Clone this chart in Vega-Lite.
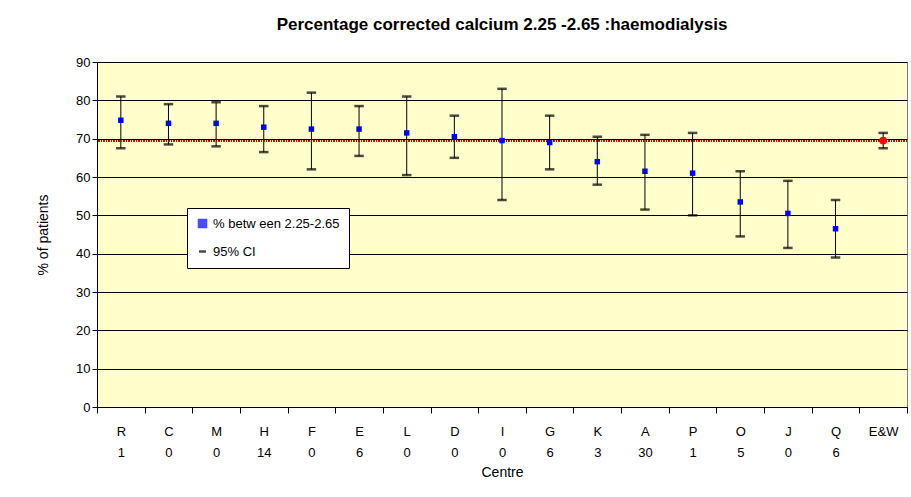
{
  "$schema": "https://vega.github.io/schema/vega-lite/v6.json",
  "width": 810,
  "height": 345,
  "padding": {"left": 36, "top": 16, "right": 3, "bottom": 5},
  "title": {"text": "Percentage corrected calcium 2.25 -2.65 :haemodialysis", "font": "Liberation Sans", "fontSize": 17, "fontWeight": "bold", "color": "black", "offset": 22},
  "data": {"values": [
    {"lab": "R|1", "v": 74.8, "lo": 67.5, "hi": 81},
    {"lab": "C|0", "v": 74, "lo": 68.5, "hi": 79},
    {"lab": "M|0", "v": 74, "lo": 68, "hi": 79.5},
    {"lab": "H|14", "v": 73, "lo": 66.5, "hi": 78.5},
    {"lab": "F|0", "v": 72.5, "lo": 62, "hi": 82},
    {"lab": "E|6", "v": 72.5, "lo": 65.5, "hi": 78.5},
    {"lab": "L|0", "v": 71.5, "lo": 60.5, "hi": 81},
    {"lab": "D|0", "v": 70.5, "lo": 65, "hi": 76},
    {"lab": "I|0", "v": 69.5, "lo": 54, "hi": 83},
    {"lab": "G|6", "v": 69, "lo": 62, "hi": 76},
    {"lab": "K|3", "v": 64, "lo": 58, "hi": 70.5},
    {"lab": "A|30", "v": 61.5, "lo": 51.5, "hi": 71},
    {"lab": "P|1", "v": 61, "lo": 50, "hi": 71.5},
    {"lab": "O|5", "v": 53.5, "lo": 44.5, "hi": 61.5},
    {"lab": "J|0", "v": 50.5, "lo": 41.5, "hi": 59},
    {"lab": "Q|6", "v": 46.5, "lo": 39, "hi": 54},
    {"lab": "E&W", "v": 69.5, "lo": 67.5, "hi": 71.5}
  ]},
  "encoding": {
    "x": {"field": "lab", "type": "nominal", "sort": null, "title": "Centre",
      "axis": {"labelExpr": "split(datum.label, '|')", "labelAngle": 0, "labelPadding": 12, "labelLineHeight": 21, "titlePadding": 6, "tickBand": "extent", "tickSize": 6, "domainColor": "black", "tickColor": "black"}}
  },
  "layer": [
    {"mark": {"type": "rule", "color": "black", "strokeWidth": 1},
     "encoding": {"y": {"field": "lo", "type": "quantitative", "title": "% of patients", "scale": {"domain": [0, 90]},
         "axis": {"values": [0,10,20,30,40,50,60,70,80,90], "gridColor": "black", "gridOpacity": 1, "domainColor": "black", "tickColor": "black", "titlePadding": 25}},
       "y2": {"field": "hi"}}},
    {"mark": {"type": "rule", "color": "#cc0000", "strokeDash": [1, 1.5], "strokeWidth": 1.2},
     "encoding": {"x": null, "y": {"datum": 69.5, "type": "quantitative", "axis": {"values": [0,10,20,30,40,50,60,70,80,90]}}}},
    {"mark": {"type": "point", "filled": false, "size": 90, "strokeWidth": 2.5},
     "encoding": {"y": {"field": "lo", "type": "quantitative", "axis": {"values": [0,10,20,30,40,50,60,70,80,90]}},
       "color": {"datum": "95% CI"}, "shape": {"datum": "95% CI"}}},
    {"mark": {"type": "point", "filled": false, "size": 90, "strokeWidth": 2.5},
     "encoding": {"y": {"field": "hi", "type": "quantitative", "axis": {"values": [0,10,20,30,40,50,60,70,80,90]}},
       "color": {"datum": "95% CI"}, "shape": {"datum": "95% CI"}}},
    {"transform": [{"filter": "datum.lab != 'E&W'"}],
     "mark": {"type": "point", "filled": true, "size": 30, "opacity": 1},
     "encoding": {
       "y": {"field": "v", "type": "quantitative", "axis": {"values": [0,10,20,30,40,50,60,70,80,90]}},
       "color": {"datum": "% betw een 2.25-2.65",
         "scale": {"domain": ["% betw een 2.25-2.65", "95% CI"], "range": ["#0000ff", "black"]},
         "legend": {"title": null, "orient": "none", "legendX": 90, "legendY": 146, "fillColor": "white", "strokeColor": "black", "padding": 9, "rowPadding": 12, "labelFontSize": 13, "labelFont": "Liberation Sans", "symbolStrokeWidth": 2.5, "symbolSize": 50}},
       "shape": {"datum": "% betw een 2.25-2.65",
         "scale": {"domain": ["% betw een 2.25-2.65", "95% CI"], "range": ["square", "stroke"]}}}},
    {"transform": [{"filter": "datum.lab == 'E&W'"}],
     "mark": {"type": "point", "filled": true, "size": 60, "color": "red", "opacity": 1},
     "encoding": {"y": {"field": "v", "type": "quantitative", "axis": {"values": [0,10,20,30,40,50,60,70,80,90]}}}}
  ],
  "config": {
    "view": {"fill": "#ffffcc", "stroke": "#808080"},
    "font": "Liberation Sans",
    "axis": {"labelFontSize": 13, "titleFontSize": 14, "titleFontWeight": "normal", "labelColor": "black", "titleColor": "black", "grid": false},
    "axisY": {"grid": true}
  }
}
